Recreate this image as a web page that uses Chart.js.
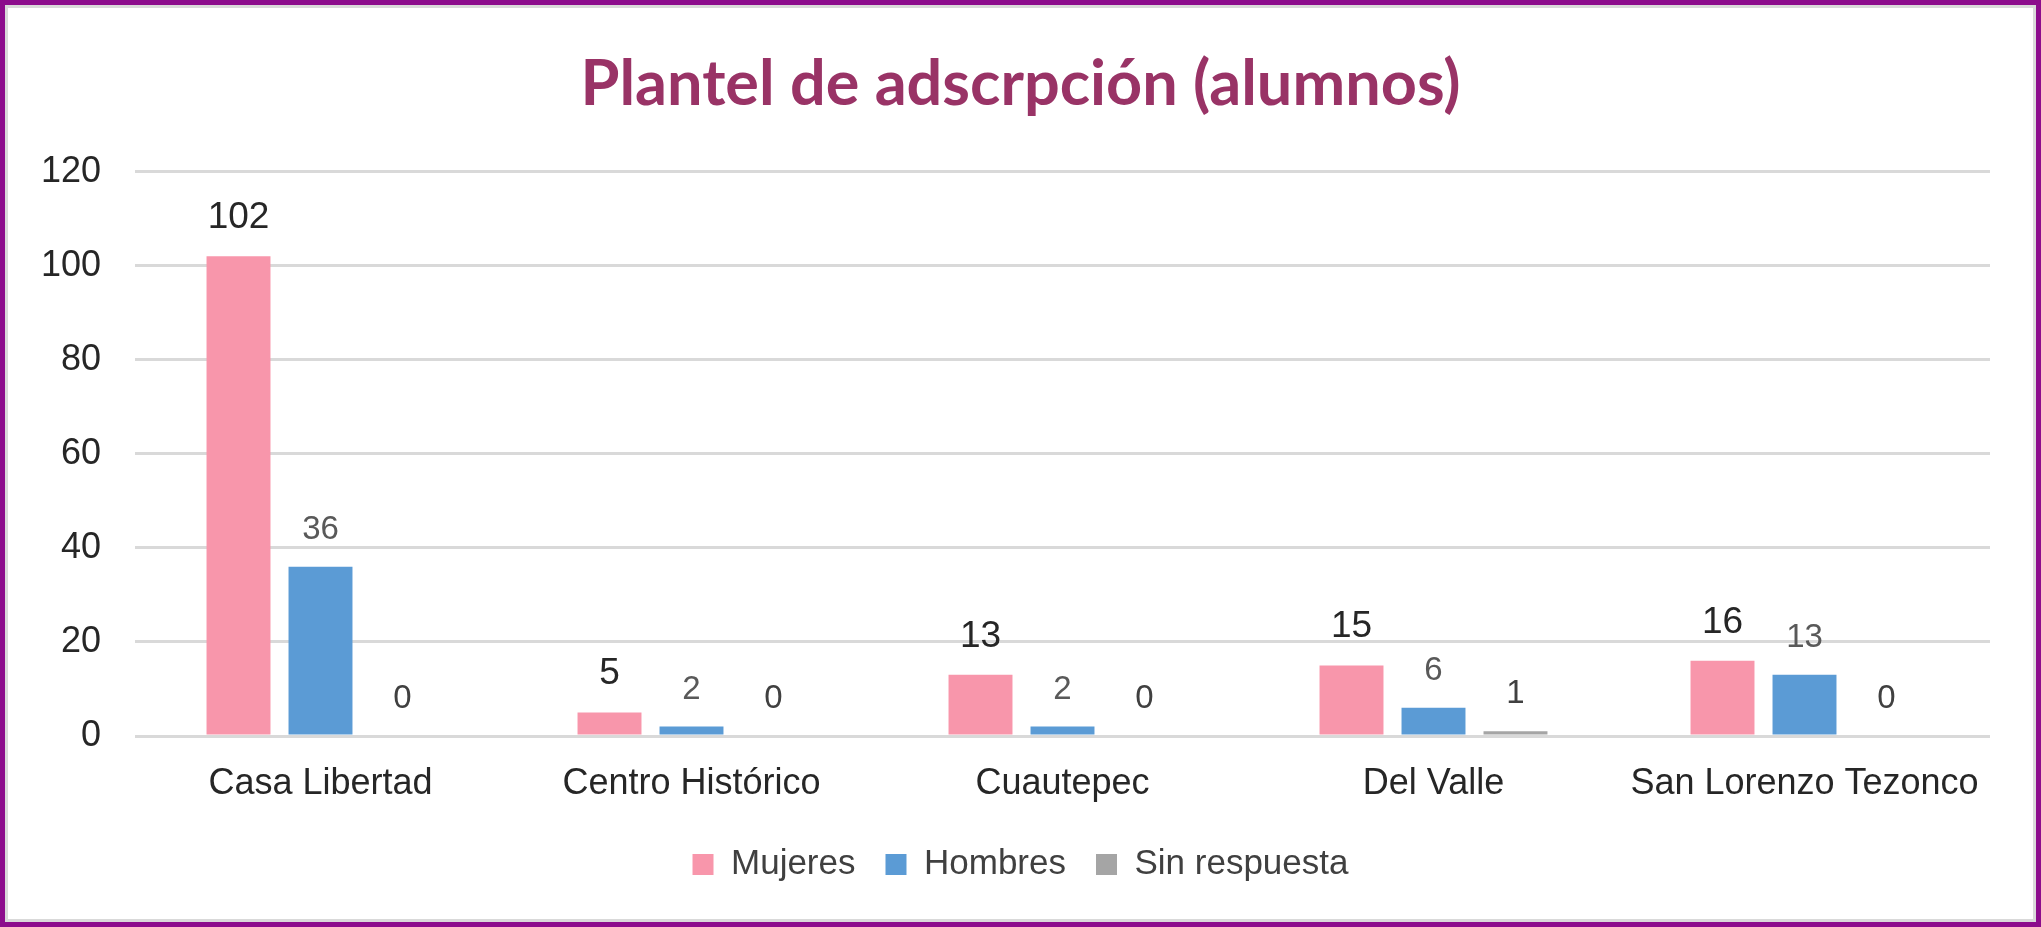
<!DOCTYPE html>
<html>
<head>
<meta charset="utf-8">
<script src="https://cdn.jsdelivr.net/npm/chart.js@4.4.0/dist/chart.umd.min.js"></script>
<style>
  html, body { margin: 0; padding: 0; background: #fff; }
  #frame {
    position: absolute; left: 0; top: 0;
    width: 2041px; height: 927px;
    box-sizing: border-box;
    border: 5px solid #8c0c8c;
    box-shadow: inset 0 0 0 3px #d9d9d9;
    background: #fff;
  }
  #wrap { position: absolute; left: 0; top: 0; width: 2031px; height: 917px; }
</style>
</head>
<body>
<div id="frame"><div id="wrap"><canvas id="my_Chart"></canvas></div></div>
<script>
// data
var planteles = ["Casa Libertad", "Centro Histórico", "Cuautepec", "Del Valle", "San Lorenzo Tezonco"];
var mujeres = [102, 5, 13, 15, 16];
var hombres = [36, 2, 2, 6, 13];
var sinRespuesta = [0, 0, 0, 1, 0];
var yTicks = [0, 20, 40, 60, 80, 100, 120];

var FONT = "'Liberation Sans', Arial, sans-serif";

// value labels over each bar, placed from the bar elements
var barLabels = {
  id: 'barLabels',
  afterDatasetsDraw: function (chart) {
    var ctx = chart.ctx;
    ctx.save();
    ctx.textAlign = 'center';
    ctx.textBaseline = 'alphabetic';
    chart.data.datasets.forEach(function (ds, i) {
      var meta = chart.getDatasetMeta(i);
      ctx.font = ds.labelSize + 'px ' + FONT;
      ctx.fillStyle = ds.labelColor;
      meta.data.forEach(function (bar, j) {
        ctx.fillText(String(ds.data[j]), bar.x, bar.y - 28);
      });
    });
    ctx.restore();
  }
};

var myData = {
  type: 'bar',
  data: {
    labels: planteles,
    datasets: [
      { label: 'Mujeres', data: mujeres, backgroundColor: '#f896ab', labelSize: 37, labelColor: '#262626' },
      { label: 'Hombres', data: hombres, backgroundColor: '#5b9bd5', labelSize: 33, labelColor: '#595959' },
      { label: 'Sin respuesta', data: sinRespuesta, backgroundColor: '#a5a5a5', labelSize: 33, labelColor: '#404040' }
    ]
  },
  options: {
    responsive: true,
    maintainAspectRatio: false,
    animation: false,
    categoryPercentage: 0.663,
    barPercentage: 0.78,
    layout: { padding: { left: 0, right: 0, top: 0, bottom: 30 } },
    plugins: {
      title: {
        display: true,
        text: 'Plantel de adscrpción (alumnos)',
        color: '#993366',
        font: { family: "Lato, 'Open Sans', sans-serif", size: 63, weight: 'bold' },
        padding: { top: 42, bottom: 49 }
      },
      legend: {
        position: 'bottom',
        labels: {
          boxWidth: 21, boxHeight: 21,
          padding: 30,
          color: '#404040',
          font: { family: FONT, size: 35 }
        }
      },
      tooltip: { enabled: false }
    },
    scales: {
      x: {
        grid: { display: false, drawTicks: false },
        border: { display: false },
        ticks: { color: '#262626', padding: 26, font: { family: FONT, size: 36 } },
        afterFit: function (s) { s.height = 81; }
      },
      y: {
        min: 0, max: 120,
        afterBuildTicks: function (s) { s.ticks = yTicks.map(function (v) { return { value: v }; }); },
        afterFit: function (s) { s.width = 130; },
        grid: { color: '#d9d9d9', lineWidth: 3, drawTicks: false },
        border: { display: false },
        ticks: { color: '#262626', padding: 34, font: { family: FONT, size: 36 } }
      },
      // empty right margin so the title and legend stay centred on the frame
      yRight: {
        type: 'linear', position: 'right', min: 0, max: 120,
        grid: { display: false, drawTicks: false },
        border: { display: false },
        ticks: { display: false },
        afterFit: function (s) { s.width = 46; }
      }
    }
  },
  plugins: [barLabels]
};

new Chart(document.getElementById('my_Chart'), myData);
</script>
</body>
</html>
